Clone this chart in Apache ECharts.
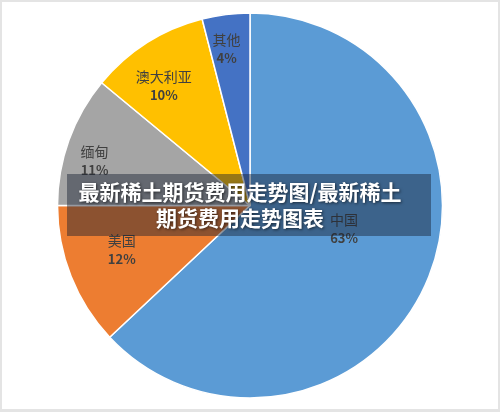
<!DOCTYPE html>
<html>
<head>
<meta charset="utf-8">
<script src="https://cdn.jsdelivr.net/npm/echarts@6/dist/echarts.min.js"></script>
<style>
html,body{margin:0;padding:0;background:#fff;}
#c{width:500px;height:412px;box-sizing:border-box;border:2px solid #e4e4e4;border-bottom-width:3px;}
</style>
</head>
<body>
<div id="c"></div>
<script>
const names = ['中国', '美国', '缅甸', '澳大利亚', '其他'];
const shares = [63, 12, 11, 10, 4];
const colors = ['#5B9BD5', '#ED7D31', '#A5A5A5', '#FFC000', '#4472C4'];
const labelShift = [[3, -16], [-36, 8], [-62, -11], [-33, -36], [-11, -58]];
const bannerLines = ['最新稀土期货费用走势图/最新稀土', '期货费用走势图表'];

const chart = echarts.init(document.getElementById('c'));
chart.setOption({
  backgroundColor: '#fff',
  animation: false,
  series: [{
    type: 'pie',
    center: [248, 203.5],
    radius: [0, 192.5],
    startAngle: 90,
    clockwise: true,
    data: names.map((n, i) => ({ name: n, value: shares[i], itemStyle: { color: colors[i] } })),
    itemStyle: { borderColor: '#fff', borderWidth: 1.5 },
    label: {
      position: 'inside',
      formatter: '{n|{b}}\n{p|{c}%}',
      rich: {
        n: { fontFamily: 'Noto Sans CJK SC', fontSize: 14, color: '#404040', lineHeight: 18 },
        p: { fontFamily: 'Noto Sans CJK SC', fontSize: 13, fontWeight: 'bold', color: '#404040', lineHeight: 18 }
      }
    },
    labelLayout: function (p) {
      const s = labelShift[p.dataIndex];
      return { dx: s[0], dy: s[1] };
    },
    labelLine: { show: false },
    emphasis: { disabled: true }
  }],
  graphic: [{
    type: 'rect',
    z: 100,
    shape: { x: 65, y: 172, width: 364, height: 62 },
    style: { fill: 'rgba(22,32,48,0.45)' }
  }, {
    type: 'text',
    z: 101,
    x: 238, y: 203,
    style: {
      text: bannerLines.join('\n'),
      fill: '#fff',
      font: 'bold 21px "Noto Sans CJK SC"',
      lineHeight: 26,
      align: 'center',
      verticalAlign: 'middle',
      textShadowColor: 'rgba(0,0,0,0.6)',
      textShadowBlur: 3,
      textShadowOffsetX: 1,
      textShadowOffsetY: 1
    }
  }]
});
</script>
</body>
</html>
